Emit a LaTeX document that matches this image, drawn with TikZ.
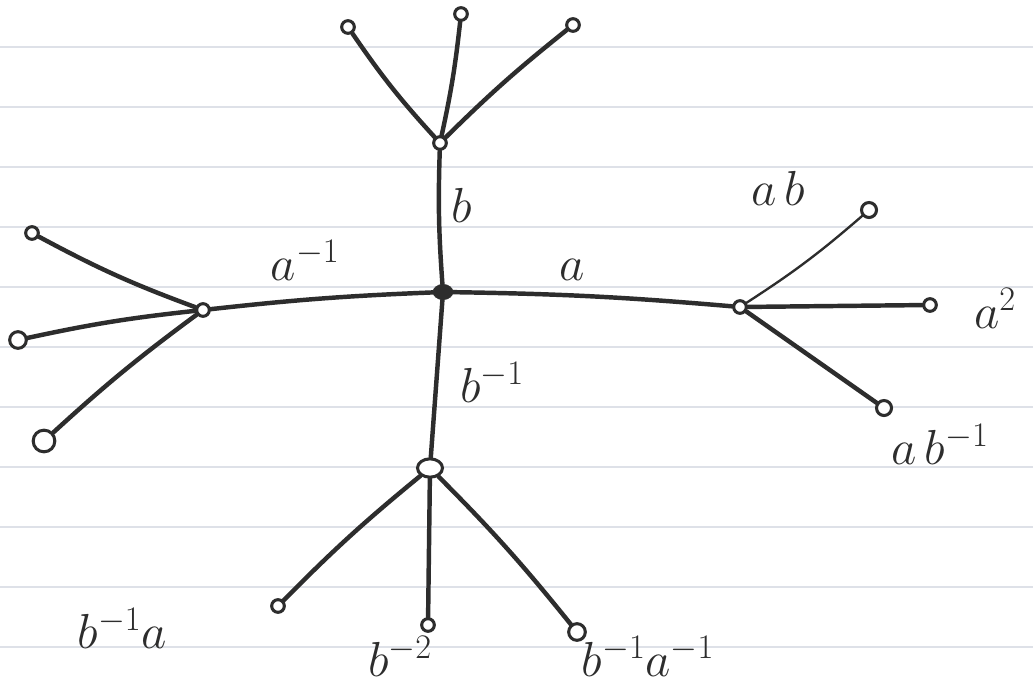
\RequirePackage{fix-cm}
\documentclass[tikz,border=0pt]{standalone}
\usetikzlibrary{shapes.geometric}
\begin{document}
\begin{tikzpicture}[x=0.03cm,y=-0.03cm,
  vtx/.style={circle,draw=ink,line width=2.6pt,inner sep=0pt,minimum size=0.38cm,fill=white},
  bigvtx/.style={vtx,minimum size=0.65cm},
  root/.style={ellipse,fill=ink,draw=ink,inner sep=0pt,minimum width=0.6cm,minimum height=0.46cm},
  edge/.style={draw=ink,line width=3.8pt,line cap=round},
  thin/.style={edge,line width=2pt},
  lbl/.style={text=ink,font=\fontsize{42}{48}\selectfont,inner sep=0pt},
  paper/.style={draw=rule,line width=0.9pt}]
\definecolor{ink}{RGB}{45,45,45}
\definecolor{rule}{RGB}{222,225,232}
\useasboundingbox (0,0) rectangle (1033,697);
\fill[white] (0,0) rectangle (1033,697);
\foreach \y in {47,107,167,227,287,347,407,467,527,587,647}
  \draw[paper] (0,\y) -- (1033,\y);
% vertices
\node[root] (e) at (443,292) {};
\node[vtx] (b) at (440,143) {};
\node[vtx] (bb1) at (348,27) {};
\node[vtx] (bb2) at (461,14) {};
\node[vtx] (bb3) at (573,25) {};
\node[vtx] (a) at (740,307) {};
\node[vtx,minimum size=0.45cm] (ab) at (869,210) {};
\node[vtx] (aa) at (930,305) {};
\node[vtx,minimum size=0.45cm] (abi) at (884,408) {};
\node[vtx] (ai) at (203,310) {};
\node[vtx] (ai1) at (32,233) {};
\node[vtx,minimum size=0.5cm] (ai2) at (18,340) {};
\node[bigvtx] (ai3) at (44,441) {};
\node[vtx,minimum width=0.75cm,minimum height=0.55cm,ellipse] (bi) at (430,468) {};
\node[vtx] (bi1) at (278,606) {};
\node[vtx] (bi2) at (428,625) {};
\node[vtx,minimum size=0.5cm] (bi3) at (577,632) {};
% edges
\draw[edge] (e) to[bend left=3] (b);
\draw[edge] (b) to[bend left=4] (bb1);
\draw[edge] (b) to[bend right=3] (bb2);
\draw[edge] (b) to[bend left=3] (bb3);
\draw[edge] (e) to[bend left=2] (a);
\draw[thin] (a) to[bend right=4] (ab);
\draw[edge] (a) -- (aa);
\draw[edge] (a) -- (abi);
\draw[edge] (e) to[bend right=2] (ai);
\draw[edge] (ai) to[bend left=4] (ai1);
\draw[edge] (ai) to[bend right=3] (ai2);
\draw[edge] (ai) to[bend right=3] (ai3);
\draw[edge] (e) -- (bi);
\draw[edge] (bi) to[bend right=3] (bi1);
\draw[edge] (bi) -- (bi2);
\draw[edge] (bi) to[bend left=3] (bi3);
% labels
\node[lbl] (lb) at (462,205) {$b$};
\node[lbl] (lai) at (305,260) {$a^{-1}$};
\node[lbl] (la) at (572,270) {$a$};
\node[lbl] (lbi) at (492,382) {$b^{-1}$};
\node[lbl] (lab) at (778,188) {$a\,b$};
\node[lbl] (laa) at (995,308) {$a^{2}$};
\node[lbl] (labi) at (940,444) {$a\,b^{-1}$};
\node[lbl] (lbia) at (122,628) {$b^{-1}a$};
\node[lbl] (lbb) at (400,656) {$b^{-2}$};
\node[lbl] (lbiai) at (648,656) {$b^{-1}a^{-1}$};
\end{tikzpicture}
\end{document}
